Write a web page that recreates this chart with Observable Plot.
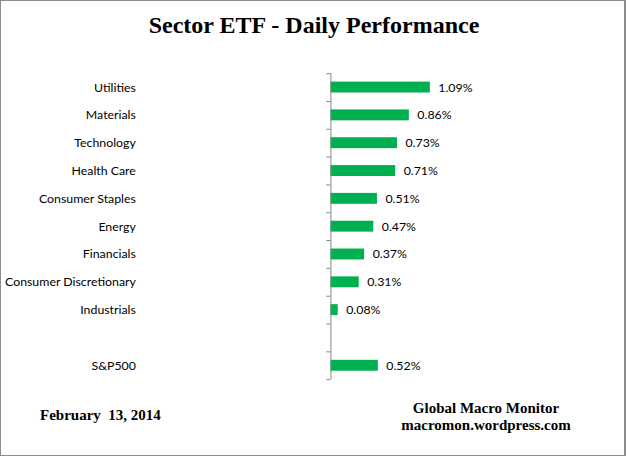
<!DOCTYPE html>
<html><head><meta charset="utf-8">
<script src="https://cdn.jsdelivr.net/npm/d3@7"></script>
<script src="https://cdn.jsdelivr.net/npm/@observablehq/plot@0.6"></script>
<style>
html,body{margin:0;padding:0;background:#fff;}
#frame{position:relative;width:626px;height:456px;box-sizing:border-box;border:1px solid #8c8c8c;border-right-width:2px;overflow:hidden;}
#chart{position:absolute;left:0;top:0;}
.t{position:absolute;font-family:"Liberation Serif","Times New Roman",serif;font-weight:bold;color:#000;white-space:pre;}
</style></head>
<body>
<div id="frame">
  <div id="chart"></div>
  <div class="t" style="left:0;width:626px;top:10px;text-align:center;font-size:24px;line-height:28px;">Sector ETF - Daily Performance</div>
  <div class="t" style="left:39px;top:406px;font-size:15px;line-height:17px;">February  13, 2014</div>
  <div class="t" style="left:385px;width:200px;top:399px;text-align:center;font-size:15px;line-height:17px;">Global Macro Monitor<br>macromon.wordpress.com</div>
</div>
<script>
const categories = ["Utilities","Materials","Technology","Health Care","Consumer Staples","Energy","Financials","Consumer Discretionary","Industrials"," ","S&P500"];
const values = [1.09,0.86,0.73,0.71,0.51,0.47,0.37,0.31,0.08,null,0.52];
const data = categories.map((c,i)=>({cat:c,val:values[i]})).filter(d=>d.val!==null);

const W = 626, H = 456, mTop = 72.5, mBottom = 76, mLeft = 331;
const bw = (H - mTop - mBottom) / categories.length;

const chart = Plot.plot({
  width: W, height: H,
  marginTop: mTop, marginBottom: mBottom, marginLeft: mLeft, marginRight: 185,
  style: {fontFamily: "Lato, sans-serif", fontSize: "12.4px", color: "#000", background: "transparent"},
  x: {domain: [0, 1.2], axis: null},
  y: {domain: categories, padding: 0, round: false, axis: null},
  marks: [
    Plot.barX(data, {x: "val", y: "cat", fill: "#00B050", insetTop: 8.5, insetBottom: 8.5}),
    Plot.text(data, {x: "val", y: "cat", text: d => d.val.toFixed(2) + "%", textAnchor: "start", dx: 8, fill: "#000"}),
    Plot.text(categories, {x: 0, y: d => d, text: d => d, textAnchor: "end", dx: -196, fill: "#000"}),
    Plot.ruleY(categories, {y: d => d, x1: -0.045, x2: 0, dy: -bw/2, stroke: "#868686"}),
    Plot.ruleY(categories.slice(-1), {y: d => d, x1: -0.045, x2: 0, dy: bw/2, stroke: "#868686"}),
    Plot.ruleX([0], {stroke: "#868686"})
  ]
});
document.getElementById("chart").appendChild(chart);
</script>
</body></html>
